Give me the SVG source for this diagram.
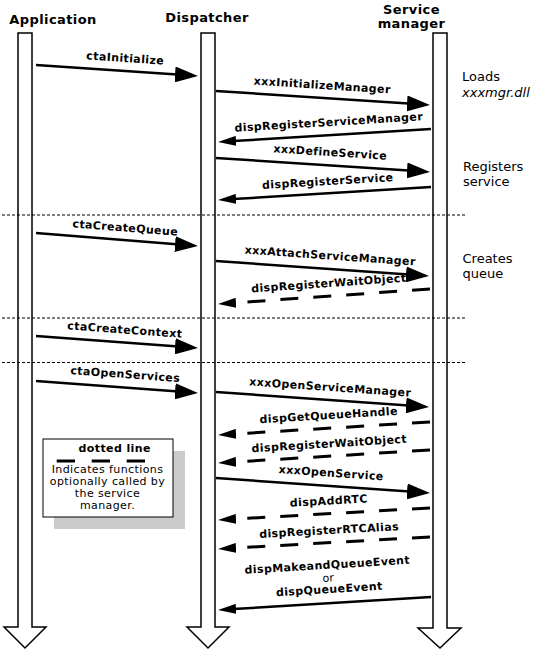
<svg xmlns="http://www.w3.org/2000/svg" width="536" height="650" viewBox="0 0 536 650">
<defs>
<marker id="hR" markerUnits="userSpaceOnUse" markerWidth="24" markerHeight="16" refX="17" refY="8" orient="auto"><path d="M0,0 L23,8 L0,16 z" fill="#000"/></marker>
<marker id="hL" markerUnits="userSpaceOnUse" markerWidth="19" markerHeight="10" refX="12" refY="5" orient="auto"><path d="M0,0 L18,5 L0,10 z" fill="#000"/></marker>
</defs>
<style>
.life{fill:#fff;stroke:#000;stroke-width:1.5}
.hdr{font-family:"DejaVu Sans",Verdana,sans-serif;font-weight:bold;font-size:13px;letter-spacing:0.4px;text-anchor:middle}
.lbl{font-family:"DejaVu Sans",Verdana,sans-serif;font-weight:bold;font-size:11px;letter-spacing:0.4px;text-anchor:middle}
.or{font-family:"DejaVu Sans",Verdana,sans-serif;font-size:11px;text-anchor:middle}
.note{font-family:"DejaVu Sans",Verdana,sans-serif;font-size:13px}
.leg{font-family:"DejaVu Sans",Verdana,sans-serif;font-size:11px;letter-spacing:0.4px;text-anchor:middle}
.sep{stroke:#000;stroke-width:1;stroke-dasharray:3,2;fill:none}
.msg{stroke:#000;stroke-width:2.5;fill:none}
.r{marker-end:url(#hR)}
.l{marker-end:url(#hL)}
.opt{stroke-dasharray:18,15;stroke-width:3}
</style>
<rect width="536" height="650" fill="#fff"/>

<g id="application">
<text class="hdr" x="53" y="24">Application</text>
<polygon class="life" points="18,33 32,33 32,627 46,627 25,648 4,627 18,627"/>
</g>
<g id="dispatcher">
<text class="hdr" x="207" y="22">Dispatcher</text>
<polygon class="life" points="201,33 215,33 215,627 229,627 208,648 187,627 201,627"/>
</g>
<g id="service-manager">
<text class="hdr" x="411.5" y="14.3">Service</text>
<text class="hdr" x="411.5" y="28">manager</text>
<polygon class="life" points="433,33 447,33 447,628 461,628 440,648 418,628 433,628"/>
</g>

<g id="separators">
<line class="sep" x1="2" y1="215" x2="467" y2="215"/>
<line class="sep" x1="2" y1="318" x2="467" y2="318"/>
<line class="sep" x1="2" y1="362.5" x2="467" y2="362.5"/>
</g>

<g id="notes">
<text class="note" x="462" y="81">Loads</text>
<text class="note" x="462" y="96.7" font-style="italic">xxxmgr.dll</text>
<text class="note" x="463" y="171">Registers</text>
<text class="note" x="463" y="186">service</text>
<text class="note" x="462.5" y="263.3">Creates</text>
<text class="note" x="462.5" y="278">queue</text>
</g>

<g id="legend">
<rect x="54" y="451" width="131" height="78" fill="#cbcbcb"/>
<rect x="43" y="439" width="130" height="78" fill="#fff" stroke="#000" stroke-width="1"/>
<text class="lbl" x="114.7" y="451.7">dotted line</text>
<line x1="56.7" y1="461" x2="146.7" y2="461" stroke="#000" stroke-width="3" stroke-dasharray="18.3,16.7"/>
<text class="leg" x="107.5" y="472.7">Indicates functions</text>
<text class="leg" x="107.5" y="484.5">optionally called by</text>
<text class="leg" x="107.5" y="496.7">the service</text>
<text class="leg" x="107.5" y="509.3">manager.</text>
</g>

<g id="connectors">
<path class="msg r" d="M36,65 L192,75.6"/>
<path class="msg r" d="M216,91 L424,104.6"/>
<path class="msg l" d="M431,129 L224,141.6"/>
<path class="msg r" d="M216,158 L424,171.6"/>
<path class="msg l" d="M431,187 L224,199.6"/>
<path class="msg r" d="M36,233 L192,245.5"/>
<path class="msg r" d="M216,261 L423,275.6"/>
<path class="msg l opt" d="M430,289 L224,303.6"/>
<path class="msg r" d="M36,336 L192,347.6"/>
<path class="msg r" d="M36,381 L192,392.6"/>
<path class="msg r" d="M216,392 L423,406.6"/>
<path class="msg l opt" d="M430,422 L224,434.6"/>
<path class="msg l opt" d="M430,450 L224,462.6"/>
<path class="msg r" d="M216,478 L424,492.6"/>
<path class="msg l opt" d="M430,508 L224,519.6"/>
<path class="msg l opt" d="M430,537 L224,548.6"/>
<path class="msg l" d="M431,597 L224,609.6"/>
</g>

<g id="labels">
<text class="lbl" x="125" y="62" transform="rotate(3.9 125 62)">ctaInitialize</text>
<text class="lbl" x="322" y="89" transform="rotate(3.7 322 89)">xxxInitializeManager</text>
<text class="lbl" x="329" y="126" transform="rotate(-3.5 329 126)">dispRegisterServiceManager</text>
<text class="lbl" x="330" y="156" transform="rotate(3.7 330 156)">xxxDefineService</text>
<text class="lbl" x="328" y="185" transform="rotate(-3.5 328 185)">dispRegisterService</text>
<text class="lbl" x="125" y="231.5" transform="rotate(4.5 125 231.5)">ctaCreateQueue</text>
<text class="lbl" x="330" y="259.5" transform="rotate(4 330 259.5)">xxxAttachServiceManager</text>
<text class="lbl" x="329" y="287" transform="rotate(-4 329 287)">dispRegisterWaitObject</text>
<text class="lbl" x="124.6" y="333.5" transform="rotate(4.2 124.6 333.5)">ctaCreateContext</text>
<text class="lbl" x="125" y="378" transform="rotate(4.2 125 378)">ctaOpenServices</text>
<text class="lbl" x="330" y="391" transform="rotate(4 330 391)">xxxOpenServiceManager</text>
<text class="lbl" x="329" y="419" transform="rotate(-3.5 329 419)">dispGetQueueHandle</text>
<text class="lbl" x="329.5" y="447.5" transform="rotate(-3.5 329.5 447.5)">dispRegisterWaitObject</text>
<text class="lbl" x="331" y="476.7" transform="rotate(4 331 476.7)">xxxOpenService</text>
<text class="lbl" x="329" y="504.5" transform="rotate(-3.2 329 504.5)">dispAddRTC</text>
<text class="lbl" x="329.3" y="534" transform="rotate(-3.2 329.3 534)">dispRegisterRTCAlias</text>
<text class="lbl" x="327.5" y="568.8" transform="rotate(-3.5 327.5 568.8)">dispMakeandQueueEvent</text>
<text class="or" x="328.3" y="581.7" transform="rotate(-3.5 328.3 581.7)">or</text>
<text class="lbl" x="329.5" y="593" transform="rotate(-3.5 329.5 593)">dispQueueEvent</text>
</g>
</svg>
